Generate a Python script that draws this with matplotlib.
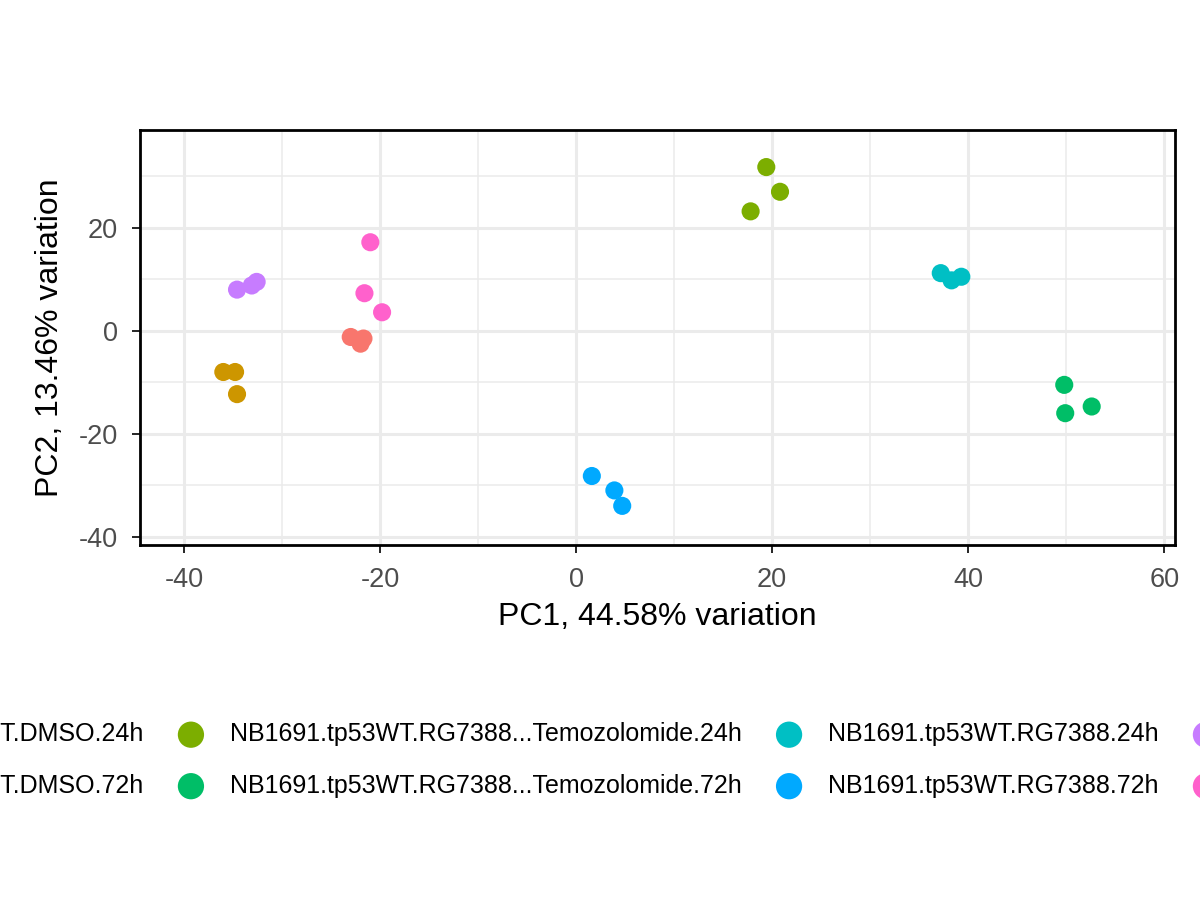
import matplotlib
matplotlib.use("Agg")
import matplotlib.pyplot as plt
from matplotlib.ticker import MultipleLocator

plt.rcParams["font.family"] = ["Liberation Sans", "DejaVu Sans"]
plt.rcParams["axes.unicode_minus"] = False

groups = ["NB1691.tp53WT.DMSO.24h", "NB1691.tp53WT.DMSO.72h",
          "NB1691.tp53WT.RG7388...Temozolomide.24h", "NB1691.tp53WT.RG7388...Temozolomide.72h",
          "NB1691.tp53WT.RG7388.24h", "NB1691.tp53WT.RG7388.72h",
          "NB1691.tp53WT.Temozolomide.24h", "NB1691.tp53WT.Temozolomide.72h"]
colors = ["#F8766D", "#CD9600", "#7CAE00", "#00BE67", "#00BFC4", "#00A9FF", "#C77CFF", "#FF61CC"]
pc1 = [[-23.0, -22.0, -21.7], [-36.0, -34.8, -34.6], [17.8, 19.4, 20.8], [49.8, 49.9, 52.6],
       [37.2, 38.3, 39.3], [1.6, 3.9, 4.7], [-34.6, -33.1, -32.6], [-21.0, -21.6, -19.8]]
pc2 = [[-1.2, -2.5, -1.5], [-8.0, -8.0, -12.3], [23.2, 31.8, 27.0], [-10.5, -16.0, -14.7],
       [11.2, 9.8, 10.5], [-28.2, -31.0, -34.0], [8.0, 8.8, 9.5], [17.2, 7.3, 3.6]]

fig = plt.figure(figsize=(12, 9), dpi=100)
ax = fig.add_axes([140/1200, 1-545/900, 1035/1200, 415/900])
for g, c, x, y in zip(groups, colors, pc1, pc2):
    ax.scatter(x, y, s=170, color=c, label=g, zorder=3, edgecolors="none")

ax.set_xlim(-44.5, 61.1)
ax.set_ylim(-41.6, 39.0)
ax.xaxis.set_major_locator(MultipleLocator(20))
ax.yaxis.set_major_locator(MultipleLocator(20))
ax.xaxis.set_minor_locator(MultipleLocator(10))
ax.yaxis.set_minor_locator(MultipleLocator(10))
ax.grid(which="major", color="#ebebeb", lw=2.2, zorder=0)
ax.grid(which="minor", color="#ebebeb", lw=1.1, zorder=0)
ax.set_axisbelow(True)
for s in ax.spines.values():
    s.set_linewidth(2); s.set_color("black")
ax.tick_params(which="major", labelsize=19.5, length=6, width=1.2, pad=10,
               color="black", labelcolor="#4d4d4d")
ax.tick_params(which="minor", length=0)
ax.set_xlabel("PC1, 44.58% variation", fontsize=23, labelpad=6)
ax.set_ylabel("PC2, 13.46% variation", fontsize=23, labelpad=10)

fig.legend(loc="center", bbox_to_anchor=(705/1200, 1-760/900), ncol=4, frameon=False,
           fontsize=18, markerscale=1.45, columnspacing=0.9, handletextpad=0.55,
           labelspacing=1.1)
fig.savefig("out.png", dpi=100, facecolor="white")
